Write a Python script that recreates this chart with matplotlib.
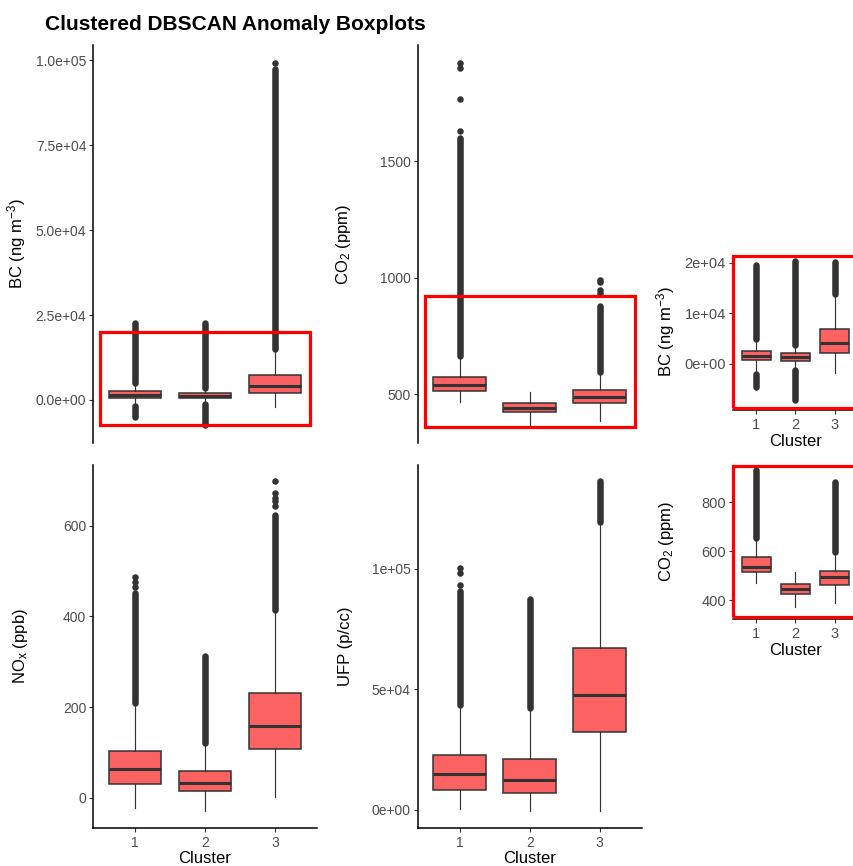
import matplotlib
matplotlib.use('Agg')
import matplotlib.pyplot as plt
from matplotlib.patches import Rectangle

plt.rcParams['font.family'] = ['Liberation Sans', 'DejaVu Sans']
plt.rcParams['mathtext.fontset'] = 'custom'
plt.rcParams['mathtext.rm'] = 'Liberation Sans'
plt.rcParams['mathtext.it'] = 'Liberation Sans:italic'
plt.rcParams['mathtext.default'] = 'regular'

# ---------------- data ----------------
title = 'Clustered DBSCAN Anomaly Boxplots'
clusters = ['1', '2', '3']

# BC (main)
bc_q1 = [588, 490, 2150]
bc_med = [1470, 1180, 4120]
bc_q3 = [2735, 2150, 7350]
bc_whislo = [-1500, -1000, -1960]
bc_whishi = [4900, 3430, 14700]
bc_out_runs = [[(5100, 22600), (-1900, -4900)], [(3600, 22700), (-1200, -7350)], [(14900, 97500)]]
bc_out_pts = [[], [], [99200]]
bc_ticks = [0, 25000, 50000, 75000, 100000]
bc_ticklabels = ['0.0e+00', '2.5e+04', '5.0e+04', '7.5e+04', '1.0e+05']
bc_zoom = [-7350, 20000]

# CO2 (main)
co2_q1 = [514, 424, 461]
co2_med = [539, 442, 488]
co2_q3 = [574, 464, 518]
co2_whislo = [468, 368, 385]
co2_whishi = [660, 511, 593]
co2_out_runs = [[(662, 1597)], [], [(595, 880)]]
co2_out_pts = [[1630, 1766, 1898, 1920], [], [935, 945, 980, 990]]
co2_ticks = [500, 1000, 1500]
co2_ticklabels = ['500', '1000', '1500']
co2_zoom = [360, 920]

# NOx
nox_q1 = [31, 15, 108]
nox_med = [63, 33, 158]
nox_q3 = [103, 59, 232]
nox_whislo = [-22, -30, 1]
nox_whishi = [206, 119, 412]
nox_out_runs = [[(208, 451)], [(121, 313)], [(414, 625)]]
nox_out_pts = [[466, 475, 488], [], [643, 654, 662, 672, 698]]
nox_ticks = [0, 200, 400, 600]
nox_ticklabels = ['0', '200', '400', '600']

# UFP
ufp_q1 = [8280, 6870, 32100]
ufp_med = [14900, 12400, 47600]
ufp_q3 = [22760, 21100, 67300]
ufp_whislo = [400, -500, -580]
ufp_whishi = [43460, 42050, 119300]
ufp_out_runs = [[(43700, 91000)], [(42300, 87600)], [(119500, 136300)]]
ufp_out_pts = [[93500, 98300, 100500], [], []]
ufp_ticks = [0, 50000, 100000]
ufp_ticklabels = ['0e+00', '5e+04', '1e+05']

# BC (zoomed inset)
bcz_q1 = [790, 510, 2170]
bcz_med = [1630, 1300, 4130]
bcz_q3 = [2620, 2090, 6890]
bcz_whislo = [-1650, -980, -1850]
bcz_whishi = [4780, 3600, 13780]
bcz_out_runs = [[(4900, 19500), (-1900, -4600)], [(3700, 20300), (-1200, -7220)], [(13900, 20200)]]
bcz_out_pts = [[], [], []]
bcz_ticks = [0, 10000, 20000]
bcz_ticklabels = ['0e+00', '1e+04', '2e+04']

# CO2 (zoomed inset)
co2z_q1 = [513, 424, 462]
co2z_med = [537, 444, 493]
co2z_q3 = [576, 464, 519]
co2z_whislo = [471, 371, 387]
co2z_whishi = [653, 513, 594]
co2z_out_runs = [[(655, 930)], [], [(596, 883)]]
co2z_out_pts = [[], [], []]
co2z_ticks = [400, 600, 800]
co2z_ticklabels = ['400', '600', '800']

# ---------------- style ----------------
FILL = '#FC6262'
EDGE = '#333333'
TICKC = '#4D4D4D'
MS = 4.7

W, H = 854, 866
fig = plt.figure(figsize=(W / 100, H / 100), dpi=100)


def px_axes(x0, x1, y0, y1):
    return fig.add_axes([x0 / W, 1 - y1 / H, (x1 - x0) / W, (y1 - y0) / H])


def draw_panel(ax, q1, med, q3, wlo, whi, runs, pts, ticks, ticklabels,
               ylabel, show_x, ylim=None, tick_fs=10, ylab_x=-0.29):
    stats = [dict(med=m, q1=a, q3=b, whislo=l, whishi=h, fliers=[])
             for a, m, b, l, h in zip(q1, med, q3, wlo, whi)]
    pos = list(range(1, len(clusters) + 1))
    ax.bxp(stats, positions=pos, widths=0.75, patch_artist=True,
           showcaps=False, showfliers=False,
           boxprops=dict(facecolor=FILL, edgecolor=EDGE, linewidth=1.1),
           medianprops=dict(color=EDGE, linewidth=2.2, solid_capstyle='butt'),
           whiskerprops=dict(color=EDGE, linewidth=0.85))
    allv = list(wlo) + list(whi) + list(q1) + list(q3)
    for p, rs, ps in zip(pos, runs, pts):
        for lo, hi in rs:
            ax.plot([p, p], [lo, hi], color=EDGE, lw=MS, solid_capstyle='round', zorder=3)
            allv += [lo, hi]
        if ps:
            ax.plot([p] * len(ps), ps, 'o', ms=MS, color=EDGE, mew=0, zorder=3)
            allv += list(ps)
    if ylim is None:
        lo, hi = min(allv), max(allv)
    else:
        lo, hi = ylim
    pad = 0.05 * (hi - lo)
    ax.set_ylim(lo - pad, hi + pad)
    ax.set_xlim(0.4, len(clusters) + 0.6)
    ax.set_yticks(ticks)
    ax.set_yticklabels(ticklabels)
    ax.set_xticks(pos)
    ax.set_xticklabels(clusters)
    for s in ['top', 'right']:
        ax.spines[s].set_visible(False)
    ax.spines['left'].set_linewidth(1.1)
    ax.spines['bottom'].set_linewidth(1.1)
    ax.tick_params(axis='both', length=3, width=0.8, color=EDGE,
                   labelcolor=TICKC, labelsize=tick_fs, pad=2)
    ax.tick_params(axis='x', pad=3)
    if not show_x:
        ax.spines['bottom'].set_visible(False)
        ax.tick_params(axis='x', bottom=False, labelbottom=False)
    else:
        ax.set_xlabel('Cluster', fontsize=12, labelpad=1)
    ax.set_ylabel(ylabel, fontsize=12)
    ax.yaxis.set_label_coords(ylab_x, 0.5)


def zoom_rect(ax, zoom):
    ax.add_patch(Rectangle((0.5, zoom[0]), len(clusters), zoom[1] - zoom[0],
                           fill=False, edgecolor='#FF0000', lw=2.3, zorder=5))


# top-left: BC
ax1 = px_axes(93.3, 316.7, 45, 443)
draw_panel(ax1, bc_q1, bc_med, bc_q3, bc_whislo, bc_whishi, bc_out_runs, bc_out_pts,
           bc_ticks, bc_ticklabels, r'BC (ng m$^{-3}$)', False, ylab_x=-0.292)
zoom_rect(ax1, bc_zoom)

# top-middle: CO2
ax2 = px_axes(417.7, 641.7, 45, 443)
draw_panel(ax2, co2_q1, co2_med, co2_q3, co2_whislo, co2_whishi, co2_out_runs, co2_out_pts,
           co2_ticks, co2_ticklabels, r'CO$_2$ (ppm)', False, ylab_x=-0.289)
zoom_rect(ax2, co2_zoom)

# bottom-left: NOx
ax3 = px_axes(93.3, 316.7, 465, 827.7)
draw_panel(ax3, nox_q1, nox_med, nox_q3, nox_whislo, nox_whishi, nox_out_runs, nox_out_pts,
           nox_ticks, nox_ticklabels, r'NO$_x$ (ppb)', True, ylab_x=-0.283)

# bottom-middle: UFP
ax4 = px_axes(417.7, 641.7, 465, 827.7)
draw_panel(ax4, ufp_q1, ufp_med, ufp_q3, ufp_whislo, ufp_whishi, ufp_out_runs, ufp_out_pts,
           ufp_ticks, ufp_ticklabels, 'UFP (p/cc)', True, ylab_x=-0.289)


def inset(ax):
    ax.spines['left'].set_visible(False)
    ax.spines['bottom'].set_position(('outward', 1.5))
    ax.add_patch(Rectangle((0, 0), 1, 1, transform=ax.transAxes, fill=False,
                           edgecolor='#FF0000', lw=2.3, clip_on=False, zorder=6))


# inset BC
ax5 = px_axes(732.7, 858, 256, 408)
draw_panel(ax5, bcz_q1, bcz_med, bcz_q3, bcz_whislo, bcz_whishi, bcz_out_runs, bcz_out_pts,
           bcz_ticks, bcz_ticklabels, r'BC (ng m$^{-3}$)', True, ylim=bc_zoom,
           tick_fs=10.5, ylab_x=-0.447)
inset(ax5)

# inset CO2
ax6 = px_axes(732.7, 858, 466, 616.7)
draw_panel(ax6, co2z_q1, co2z_med, co2z_q3, co2z_whislo, co2z_whishi, co2z_out_runs, co2z_out_pts,
           co2z_ticks, co2z_ticklabels, r'CO$_2$ (ppm)', True, ylim=co2_zoom,
           tick_fs=10.5, ylab_x=-0.452)
inset(ax6)

fig.text(45 / W, 1 - 24 / H, title, fontsize=15, fontweight='bold', ha='left', va='center')

fig.savefig('out.png', dpi=100)
